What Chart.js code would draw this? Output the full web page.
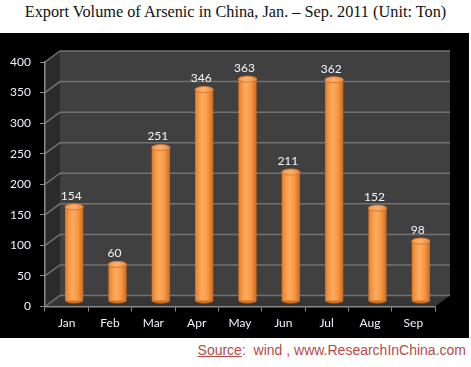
<!DOCTYPE html>
<html>
<head>
<meta charset="utf-8">
<script src="https://cdn.jsdelivr.net/npm/chart.js@4"></script>
<style>
  html, body { margin: 0; padding: 0; background: #fff; }
  #page { position: relative; width: 471px; height: 367px; overflow: hidden; }
  #title { position: absolute; left: 0; top: 2px; width: 471px; text-align: center;
           font-family: "Liberation Serif", serif; font-size: 16.3px; color: #111; white-space: nowrap; }
  #box { position: absolute; left: 0; top: 33px; width: 469px; height: 305px; background: #000; }
  #source { position: absolute; right: 5px; top: 342px; font-family: "Liberation Sans", sans-serif;
            font-size: 14px; color: #b84a47; white-space: nowrap; }
  #source u { text-decoration-thickness: 1px; }
</style>
</head>
<body>
<div id="page">
  <div id="title">Export Volume of Arsenic in China, Jan. – Sep. 2011 (Unit: Ton)</div>
  <div id="box"><canvas id="chart"></canvas></div>
  <div id="source"><u>Source</u>:&nbsp; wind , www.ResearchInChina.com</div>
</div>
<script>
const months = ['Jan', 'Feb', 'Mar', 'Apr', 'May', 'Jun', 'Jul', 'Aug', 'Sep'];
const volumes = [154, 60, 251, 346, 363, 211, 362, 152, 98];
const yTicks = [0, 50, 100, 150, 200, 250, 300, 350, 400];

const DX = 15, DY = 11;          // depth of the 3d box
const BX = 7.5, BY = -5.5;       // bars sit half way in
const BAR_PCT = 0.42;
const RY = 3;

function barFill(c) {
  const xs = c.chart.scales.x;
  if (!xs || c.dataIndex === undefined) return '#f79646';
  const cx = xs.getPixelForValue(c.dataIndex);
  const w = xs.width / months.length * BAR_PCT;
  if (!isFinite(cx) || !isFinite(w) || w <= 0) return '#f79646';
  const g = c.chart.ctx.createLinearGradient(cx - w / 2, 0, cx + w / 2, 0);
  g.addColorStop(0, '#d9772c');
  g.addColorStop(0.18, '#f6963f');
  g.addColorStop(0.42, '#fdac63');
  g.addColorStop(0.72, '#f7963f');
  g.addColorStop(1, '#c9691f');
  return g;
}

const box3d = {
  id: 'box3d',
  beforeDraw(chart) {
    const ctx = chart.ctx, a = chart.chartArea, ys = chart.scales.y;
    ctx.save();
    // back wall
    ctx.fillStyle = '#404040';
    ctx.fillRect(a.left + DX, a.top - DY, a.right - a.left, a.bottom - a.top);
    // left wall
    ctx.fillStyle = '#2b2b2b';
    ctx.beginPath();
    ctx.moveTo(a.left, a.top);
    ctx.lineTo(a.left + DX, a.top - DY);
    ctx.lineTo(a.left + DX, a.bottom - DY);
    ctx.lineTo(a.left, a.bottom);
    ctx.closePath();
    ctx.fill();
    // floor
    ctx.fillStyle = '#363636';
    ctx.beginPath();
    ctx.moveTo(a.left, a.bottom);
    ctx.lineTo(a.left + DX, a.bottom - DY);
    ctx.lineTo(a.right + DX, a.bottom - DY);
    ctx.lineTo(a.right, a.bottom);
    ctx.closePath();
    ctx.fill();
    // grid lines
    ctx.strokeStyle = '#727272';
    ctx.lineWidth = 1.5;
    yTicks.forEach(v => {
      const y = ys.getPixelForValue(v);
      ctx.beginPath();
      ctx.moveTo(a.left, y);
      ctx.lineTo(a.left + DX, y - DY);
      ctx.lineTo(a.right + DX, y - DY);
      ctx.stroke();
    });
    ctx.restore();
  },
  beforeDatasetsDraw(chart) {
    const ctx = chart.ctx;
    ctx.save();
    ctx.translate(BX, BY);
    chart.getDatasetMeta(0).data.forEach(el => {
      const p = el.getProps(['x', 'base', 'width'], true);
      ctx.fillStyle = '#d0701f';
      ctx.beginPath();
      ctx.ellipse(p.x, p.base, p.width / 2, RY, 0, 0, Math.PI * 2);
      ctx.fill();
    });
  },
  afterDatasetsDraw(chart) {
    const ctx = chart.ctx;
    chart.getDatasetMeta(0).data.forEach((el, i) => {
      const p = el.getProps(['x', 'y', 'width'], true);
      const g = ctx.createLinearGradient(p.x - p.width / 2, 0, p.x + p.width / 2, 0);
      g.addColorStop(0, '#f19a52');
      g.addColorStop(0.5, '#fbb06e');
      g.addColorStop(1, '#e58a40');
      ctx.fillStyle = g;
      ctx.strokeStyle = '#d67a2e';
      ctx.lineWidth = 1;
      ctx.beginPath();
      ctx.ellipse(p.x, p.y, p.width / 2, RY, 0, 0, Math.PI * 2);
      ctx.fill();
      ctx.stroke();
      ctx.fillStyle = '#f2f5fb';
      ctx.font = '12px Lato';
      ctx.textAlign = 'center';
      ctx.textBaseline = 'middle';
      ctx.fillText(String(volumes[i]), p.x - 3, p.y - 11);
    });
    ctx.restore();
  }
};

new Chart(document.getElementById('chart'), {
  type: 'bar',
  data: {
    labels: months,
    datasets: [{
      data: volumes,
      backgroundColor: barFill,
      borderWidth: 0,
      categoryPercentage: 1,
      barPercentage: BAR_PCT
    }]
  },
  options: {
    responsive: true,
    maintainAspectRatio: false,
    animation: false,
    layout: { padding: { top: 29, right: 34, left: 0, bottom: 0 } },
    plugins: { legend: { display: false }, tooltip: { enabled: false } },
    scales: {
      x: {
        grid: { drawOnChartArea: false, color: '#8a8a8a', tickLength: 5 },
        border: { color: '#8a8a8a', width: 1.5 },
        ticks: { color: '#eef2fa', font: { family: 'Lato', size: 12 }, padding: 4 },
        afterFit(s) { s.height = 31.5; }
      },
      y: {
        min: 0,
        max: 400,
        grid: { drawOnChartArea: false, color: '#8a8a8a', tickLength: 5 },
        border: { color: '#8a8a8a', width: 1.5 },
        ticks: { stepSize: 50, color: '#eef2fa', font: { family: 'Lato', size: 12 }, padding: 9 },
        afterFit(s) { s.width = 45; }
      }
    }
  },
  plugins: [box3d]
});
</script>
</body>
</html>
